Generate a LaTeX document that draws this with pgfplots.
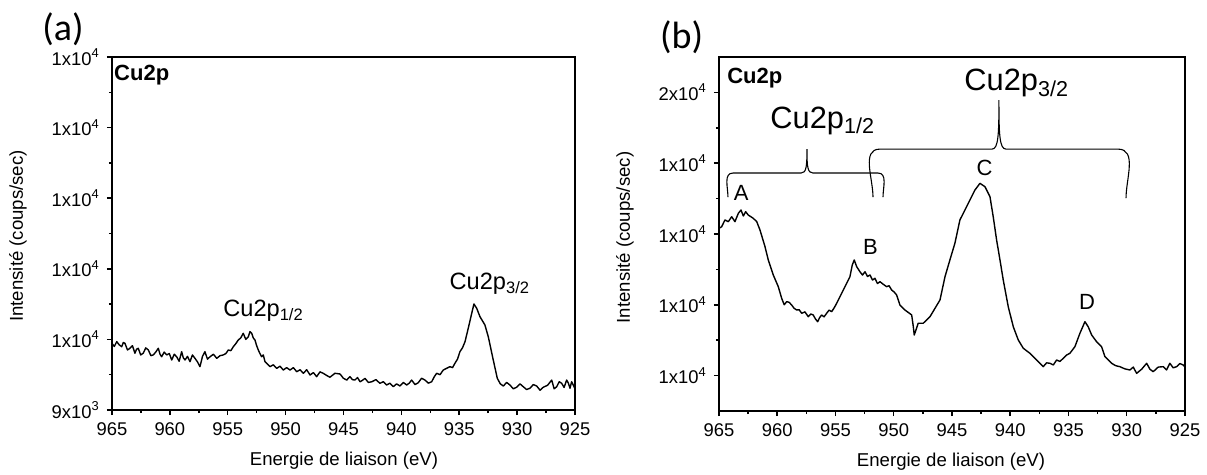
\documentclass[border=0pt]{standalone}
\usepackage{fontspec}
\setmainfont{Liberation Sans}
\newfontfamily\calibri{Carlito}
\usepackage{pgfplots}
\pgfplotsset{compat=1.18}

\pgfplotsset{
  xps/.style={
    scale only axis,
    x dir=reverse,
    xmin=925, xmax=965,
    xtick={925,930,...,965},
    minor x tick num=1,
    minor y tick num=1,
    scaled y ticks=false,
    tick align=outside,
    xtick pos=bottom, ytick pos=left,
    major tick length=2.6pt,
    minor tick length=1.6pt,
    axis line style={line width=0.85pt},
    every tick/.style={line width=0.75pt, black},
    ticklabel style={font=\fontsize{9.2}{11}\selectfont},
    /pgf/number format/assume math mode=true,
    label style={font=\fontsize{9.3}{11}\selectfont},
    xlabel={Energie de liaison (eV)},
    ylabel={Intensité (coups/sec)},
    clip=false,
  },
  spec/.style={black, line width=0.7pt, mark=none, line join=round},
}

\begin{document}
\begin{tikzpicture}
% ---------------- panel (a)
\begin{axis}[xps,
  at={(0pt,0pt)}, anchor=south west,
  width=231.5pt, height=176.5pt,
  ymin=9000, ymax=11500,
  ytick={9000,9500,10000,10500,11000,11500},
  yticklabels={9x10\textsuperscript{3},1x10\textsuperscript{4},1x10\textsuperscript{4},1x10\textsuperscript{4},1x10\textsuperscript{4},1x10\textsuperscript{4}},
  xlabel style={at={(axis description cs:0.501,-0.1445)}, anchor=center},
  ylabel style={at={(axis description cs:-0.203,0.493)}, anchor=center},
]
\addplot[spec] coordinates {
(965.0,9472) (964.80,9450) (964.59,9484) (964.38,9462) (964.16,9448) (964.02,9478)
(963.88,9472) (963.66,9425) (963.45,9437) (963.23,9455) (963.02,9402) (962.88,9430)
(962.73,9437) (962.52,9390) (962.30,9402) (962.08,9440) (961.86,9425) (961.64,9385)
(961.43,9390) (961.22,9410) (961.00,9437) (960.85,9395) (960.71,9377) (960.49,9410)
(960.27,9390) (960.05,9400) (959.84,9354) (959.62,9395) (959.41,9377) (959.20,9345)
(958.98,9413) (958.84,9370) (958.69,9354) (958.48,9380) (958.26,9342) (958.05,9390)
(957.83,9366) (957.61,9340) (957.40,9307) (957.18,9380) (956.97,9413) (956.75,9360)
(956.53,9377) (956.24,9395) (955.95,9366) (955.66,9385) (955.38,9390) (955.16,9400)
(954.95,9425) (954.73,9420) (954.52,9448) (954.30,9470) (954.09,9496) (953.88,9510)
(953.66,9543) (953.44,9500) (953.22,9519) (953.08,9555) (952.93,9543) (952.79,9510)
(952.65,9496) (952.50,9455) (952.36,9425) (952.22,9400) (952.07,9377) (951.93,9390)
(951.78,9342) (951.56,9325) (951.35,9307) (951.06,9320) (950.77,9295) (950.48,9310)
(950.20,9283) (949.91,9300) (949.62,9283) (949.33,9300) (949.04,9271) (948.75,9285)
(948.47,9260) (948.18,9285) (947.89,9248) (947.60,9265) (947.32,9236) (947.03,9270)
(946.75,9260) (946.46,9245) (946.17,9232) (945.74,9260) (945.30,9255) (945.01,9225)
(944.72,9212) (944.44,9236) (944.23,9215) (944.01,9212) (943.79,9230) (943.57,9200)
(943.36,9210) (943.14,9224) (942.85,9195) (942.56,9200) (942.20,9215) (941.85,9189)
(941.56,9200) (941.27,9177) (940.99,9190) (940.70,9165) (940.41,9185) (940.12,9170)
(939.83,9195) (939.54,9177) (939.32,9190) (939.11,9212) (938.82,9180) (938.54,9193)
(938.25,9225) (937.96,9212) (937.67,9190) (937.38,9200) (937.16,9235) (936.95,9260)
(936.66,9250) (936.38,9283) (936.09,9295) (935.80,9307) (935.58,9300) (935.37,9331)
(935.15,9360) (934.94,9413) (934.72,9440) (934.50,9484) (934.22,9579) (933.92,9685)
(933.73,9751) (933.49,9720) (933.21,9661) (932.78,9602) (932.49,9519) (932.06,9354)
(931.71,9224) (931.45,9185) (931.19,9170) (930.90,9195) (930.62,9177) (930.33,9150)
(930.04,9161) (929.75,9185) (929.47,9165) (929.18,9145) (928.89,9154) (928.60,9180)
(928.31,9170) (928.02,9140) (927.74,9161) (927.37,9175) (927.01,9212) (926.80,9150)
(926.58,9165) (926.36,9200) (926.15,9189) (925.94,9160) (925.72,9212) (925.57,9190)
(925.43,9154) (925.29,9200) (925.15,9177) (925.0,9150)
};
\node[anchor=north west, inner sep=0pt, font=\bfseries\fontsize{11}{13}\selectfont]
  at (rel axis cs:0.004,0.977) {Cu2p};
\node[anchor=base west, inner sep=0pt, font=\fontsize{11.8}{14}\selectfont]
  at (axis cs:955.41,9659) {Cu2p\textsubscript{1/2}};
\node[anchor=base west, inner sep=0pt, font=\fontsize{11.8}{14}\selectfont]
  at (axis cs:935.86,9850) {Cu2p\textsubscript{3/2}};
\node[font=\calibri\fontsize{19}{22}\selectfont, inner sep=0pt]
  at (axis description cs:-0.106,1.079) {(a)};
\end{axis}

% ---------------- panel (b)
\begin{axis}[xps,
  at={(303.5pt,-0.5pt)}, anchor=south west,
  width=233pt, height=177pt,
  ymin=10500, ymax=15500,
  ytick={11000,12000,13000,14000,15000},
  yticklabels={1x10\textsuperscript{4},1x10\textsuperscript{4},1x10\textsuperscript{4},1x10\textsuperscript{4},2x10\textsuperscript{4}},
  xlabel style={at={(axis description cs:0.498,-0.1445)}, anchor=center},
  ylabel style={at={(axis description cs:-0.2017,0.49)}, anchor=center},
]
\addplot[spec] coordinates {
(965.0,13080) (964.77,13103) (964.49,13198) (964.20,13174) (963.91,13244) (963.63,13174)
(963.34,13292) (963.11,13339) (962.91,13254) (962.71,13315) (962.49,13268) (962.06,13222)
(961.76,13174) (961.48,13056) (961.05,12821) (960.77,12633) (960.34,12421) (959.91,12256)
(959.62,12092) (959.40,12000) (959.19,12044) (958.98,12035) (958.76,11997) (958.55,11950)
(958.33,11927) (958.12,11930) (957.90,11880) (957.62,11900) (957.34,11832) (957.12,11870)
(956.91,11856) (956.72,11800) (956.53,11761) (956.36,11820) (956.19,11856) (955.98,11830)
(955.76,11880) (955.55,11925) (955.33,11903) (955.12,11955) (954.90,12021)
(954.47,12162) (954.04,12304) (953.76,12397) (953.56,12562) (953.39,12633) (953.18,12538)
(952.90,12467) (952.68,12420) (952.47,12467) (952.25,12400) (952.04,12421) (951.82,12350)
(951.61,12374) (951.40,12300) (951.18,12326) (950.90,12290) (950.61,12256) (950.40,12270)
(950.18,12209) (949.96,12180) (949.75,12138) (949.47,11997) (949.04,11927) (948.46,11856)
(948.32,11691) (948.24,11573) (947.90,11739) (947.47,11739) (946.89,11832) (946.03,12068)
(945.60,12397) (945.18,12633) (944.75,12869) (944.32,13198) (943.89,13339) (943.46,13480)
(943.03,13621) (942.60,13716) (942.17,13668) (941.74,13527) (941.46,13244) (941.17,12915)
(940.88,12633) (940.60,12350) (940.17,11973) (939.74,11691) (939.31,11503) (938.88,11386)
(938.31,11315) (937.73,11220) (937.17,11126) (936.88,11180) (936.59,11174) (936.30,11150)
(936.02,11220) (935.73,11200) (935.45,11244) (935.16,11290) (934.88,11315)
(934.45,11408) (934.02,11597) (933.59,11761) (933.31,11691) (933.01,11573) (932.59,11479)
(932.16,11408) (931.87,11267) (931.30,11174) (930.95,11140) (930.59,11126) (930.16,11095)
(929.73,11079) (929.44,11120) (929.15,11032) (928.72,11090) (928.29,11174) (928.01,11090)
(927.73,11055) (927.30,11120) (926.87,11126) (926.58,11080) (926.30,11174) (926.01,11110)
(925.72,11126) (925.44,11170) (925.15,11150) (925.0,11120)
};
\node[anchor=north west, inner sep=0pt, font=\bfseries\fontsize{11}{13}\selectfont]
  at (rel axis cs:0.017,0.969) {Cu2p};
% braces
\draw[line width=0.55pt] (axis cs:964.23,13522) to[out=90,in=180] (axis cs:963.80,13861)
  -- (axis cs:957.96,13861)
  .. controls (axis cs:957.50,13861) and (axis cs:957.45,13950) .. (axis cs:957.45,14199)
  .. controls (axis cs:957.45,13950) and (axis cs:957.40,13861) .. (axis cs:956.93,13861)
  -- (axis cs:951.35,13861)
  to[out=0,in=90] (axis cs:950.92,13522);
\draw[line width=0.55pt] (axis cs:951.78,13522) to[out=90,in=180] (axis cs:951.18,14199)
  -- (axis cs:941.57,14199)
  .. controls (axis cs:941.02,14199) and (axis cs:940.97,14400) .. (axis cs:940.97,14891)
  .. controls (axis cs:940.97,14400) and (axis cs:940.92,14199) .. (axis cs:940.36,14199)
  -- (axis cs:930.75,14199)
  to[out=0,in=90] (axis cs:930.06,13508);
\node[anchor=base west, inner sep=0pt, font=\fontsize{15.4}{18}\selectfont]
  at (axis cs:960.62,14497) {Cu2p\textsubscript{1/2}};
\node[anchor=base west, inner sep=0pt, font=\fontsize{15.4}{18}\selectfont]
  at (axis cs:943.97,15020) {Cu2p\textsubscript{3/2}};
\node[font=\fontsize{11}{13}\selectfont] at (axis cs:963.1,13578) {A};
\node[font=\fontsize{11}{13}\selectfont] at (axis cs:952.0,12816) {B};
\node[font=\fontsize{11}{13}\selectfont] at (axis cs:942.2,13931) {C};
\node[font=\fontsize{11}{13}\selectfont] at (axis cs:933.4,12039) {D};
\node[font=\calibri\fontsize{19}{22}\selectfont, inner sep=0pt]
  at (axis description cs:-0.080,1.055) {(b)};
\end{axis}
\pgfresetboundingbox
\useasboundingbox (-56pt,-32.5pt) rectangle (547.5pt,205pt);
\end{tikzpicture}
\end{document}
